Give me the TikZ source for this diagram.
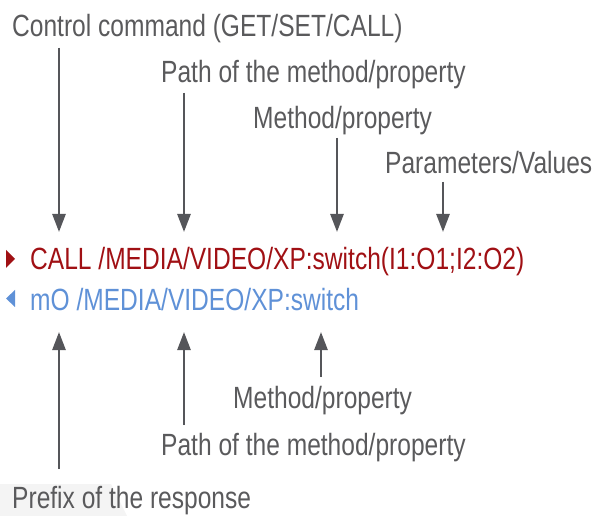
\documentclass[tikz,border=0pt]{standalone}
\usepackage{fontspec}
\setmainfont{Liberation Sans}[FakeStretch=0.80]
\usetikzlibrary{arrows.meta}
\definecolor{txtgray}{RGB}{90,90,92}
\definecolor{arrgray}{RGB}{85,86,90}
\definecolor{cmdred}{RGB}{160,16,20}
\definecolor{respblue}{RGB}{95,145,215}
\definecolor{bggray}{RGB}{244,244,244}
\begin{document}
\begin{tikzpicture}[x=1pt,y=-1pt,
  lbl/.style={anchor=base west, inner sep=0pt, text=txtgray, font=\fontsize{30.7}{36}\selectfont},
  cmdtext/.style={anchor=base west, inner sep=0pt, text=cmdred, font=\fontsize{30.7}{36}\selectfont},
  resptext/.style={anchor=base west, inner sep=0pt, text=respblue, font=\fontsize{30.7}{36}\selectfont},
  pointer/.style={draw=arrgray, line width=2.6pt, -{Triangle[length=18pt,width=13pt]}, fill=arrgray}]
\useasboundingbox (0,0) rectangle (598,516);
% faint background shape
\fill[bggray] (0,484) -- (111,484) -- (127,516) -- (0,516) -- cycle;
% labels
\node[lbl] (ctrl) at (12,37) {Control command (GET/SET/CALL)};
\node[lbl] (pathtop) at (161,83) {Path of the method/property};
\node[lbl] (methtop) at (253,129) {Method/property};
\node[lbl] (params) at (385,174) {Parameters/Values};
\node[cmdtext] (cmd) at (30,270) {CALL /MEDIA/VIDEO/XP:switch(I1:O1;I2:O2)};
\node[resptext] (resp) at (30,310) {mO /MEDIA/VIDEO/XP:switch};
\node[lbl] (methbot) at (233,408) {Method/property};
\node[lbl] (pathbot) at (161,455) {Path of the method/property};
\node[lbl] (prefix) at (12,508) {Prefix of the response};
% markers
\fill[cmdred] (6,250) -- (15,259) -- (6,268) -- cycle;
\fill[respblue] (15,290) -- (6,298.5) -- (15,307) -- cycle;
% arrow end points
\coordinate (a1s) at (59,48);  \coordinate (a1e) at (59,232);
\coordinate (a2s) at (184,93); \coordinate (a2e) at (184,232);
\coordinate (a3s) at (337,138); \coordinate (a3e) at (337,232);
\coordinate (a4s) at (443,182); \coordinate (a4e) at (443,232);
\coordinate (b1s) at (59,469); \coordinate (b1e) at (59,332);
\coordinate (b2s) at (184,425); \coordinate (b2e) at (184,332);
\coordinate (b3s) at (321,377); \coordinate (b3e) at (321,332);
\draw[pointer] (a1s) -- (a1e);
\draw[pointer] (a2s) -- (a2e);
\draw[pointer] (a3s) -- (a3e);
\draw[pointer] (a4s) -- (a4e);
\draw[pointer] (b1s) -- (b1e);
\draw[pointer] (b2s) -- (b2e);
\draw[pointer] (b3s) -- (b3e);
\end{tikzpicture}
\end{document}
